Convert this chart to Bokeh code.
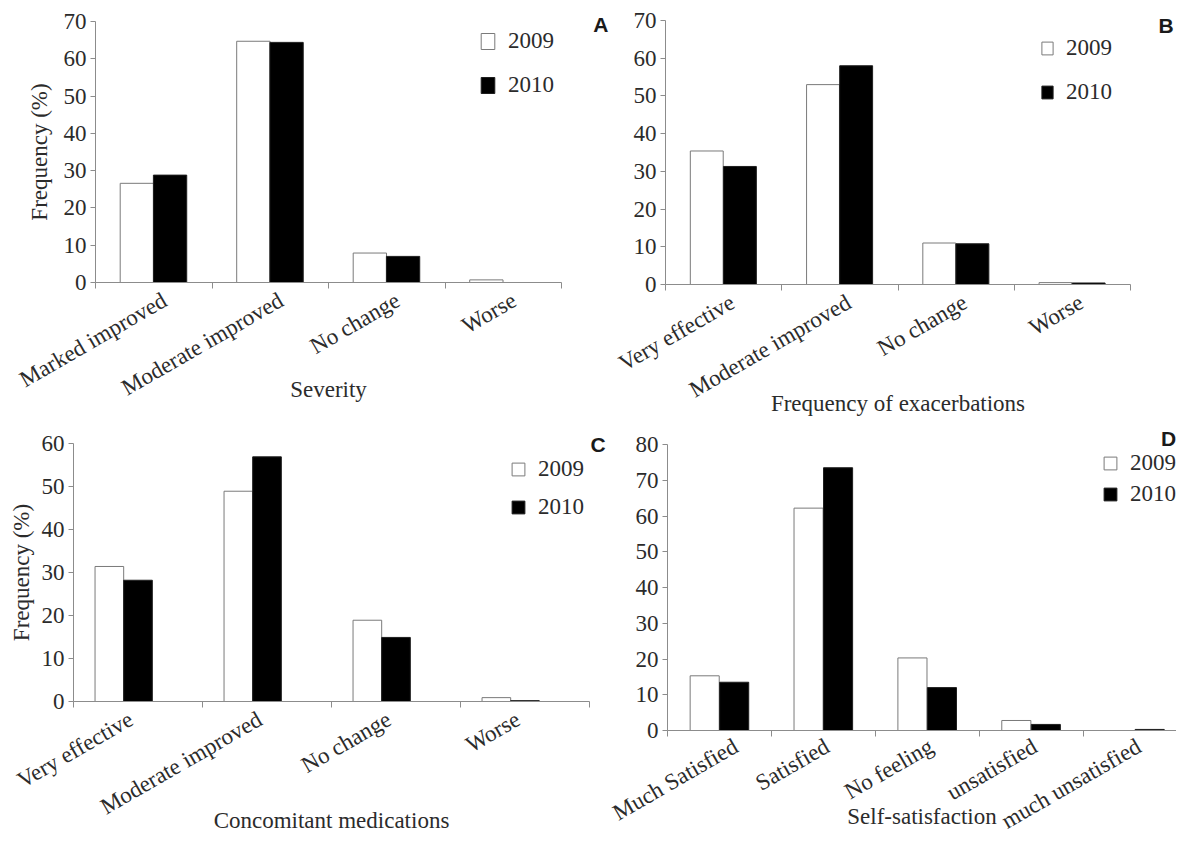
import math
from bokeh.plotting import figure
from bokeh.models import (Range1d, FixedTicker, SingleIntervalTicker, Legend, LegendItem,
                          LinearAxis)
from bokeh.layouts import column, row
from bokeh.embed import file_html
from bokeh.resources import INLINE

# ---------------- data ----------------
years = ["2009", "2010"]

severity_cats = ["Marked improved", "Moderate improved", "No change", "Worse"]
severity_2009 = [26.6, 64.7, 7.9, 0.7]
severity_2010 = [28.8, 64.4, 7.0, 0.0]

exacerb_cats = ["Very effective", "Moderate improved", "No change", "Worse"]
exacerb_2009 = [35.4, 53.0, 11.0, 0.5]
exacerb_2010 = [31.3, 58.0, 10.8, 0.4]

medic_cats = ["Very effective", "Moderate improved", "No change", "Worse"]
medic_2009 = [31.4, 48.9, 18.9, 0.9]
medic_2010 = [28.2, 56.9, 14.9, 0.2]

satis_cats = ["Much Satisfied", "Satisfied", "No feeling", "unsatisfied", "much unsatisfied"]
satis_2009 = [15.3, 62.2, 20.3, 2.8, 0.0]
satis_2010 = [13.5, 73.5, 12.0, 1.7, 0.3]

panel_letters = ["A", "B", "C", "D"]

y_tick_step = 10

# ---------------- style ----------------
FONT = "Liberation Serif"
LETTER_FONT = "Liberation Sans"
TXT = "#2b2b2b"
AXC = "#8c8c8c"
FS = "23px"


def make_panel(cats, v09, v10, ymax, xend, w, h, bl, br, bt, bb,
               off09, off10, bw, label_shift_px,
               xlabel, ylabel, xlab_std, ylab_std, lab_std,
               leg_loc, glyph_w, glyph_h, leg_spacing):
    n = len(cats)
    centers = [i + 0.5 for i in range(n)]
    cat_px = (w - bl - br) / xend
    shift = label_shift_px / cat_px
    p = figure(width=w, height=h, x_range=Range1d(0, xend), y_range=Range1d(0, ymax),
               output_backend="svg", toolbar_location=None,
               min_border_left=bl, min_border_right=br,
               min_border_top=bt, min_border_bottom=bb)
    p.outline_line_color = None
    p.xgrid.visible = False
    p.ygrid.visible = False
    p.background_fill_color = "white"
    p.border_fill_color = "white"

    r09 = p.vbar(x=[c + off09 for c in centers], top=v09, width=bw,
                 fill_color="white", line_color="#7a7a7a", line_width=1)
    r10 = p.vbar(x=[c + off10 for c in centers], top=v10, width=bw,
                 fill_color="black", line_color="#1e1e1e", line_width=1)

    label_pos = [c + shift for c in centers]
    xa = p.xaxis[0]
    xa.ticker = FixedTicker(ticks=label_pos, minor_ticks=list(range(n + 1)))
    xa.major_label_overrides = {pos: cat for pos, cat in zip(label_pos, cats)}
    xa.major_label_orientation = math.pi / 6
    xa.major_tick_out = 0
    xa.major_tick_in = 0
    xa.minor_tick_out = 6
    xa.minor_tick_in = 0
    xa.minor_tick_line_color = AXC
    xa.axis_line_color = AXC
    xa.major_label_text_font = FONT
    xa.major_label_text_font_size = FS
    xa.major_label_text_color = TXT
    xa.major_label_standoff = lab_std
    xa.axis_label = xlabel
    xa.axis_label_text_font = FONT
    xa.axis_label_text_font_size = FS
    xa.axis_label_text_font_style = "normal"
    xa.axis_label_text_color = TXT
    xa.axis_label_standoff = xlab_std

    ya = p.yaxis[0]
    ya.ticker = SingleIntervalTicker(interval=y_tick_step, num_minor_ticks=0)
    ya.major_tick_out = 5
    ya.major_tick_in = 0
    ya.minor_tick_out = 0
    ya.minor_tick_in = 0
    ya.major_tick_line_color = AXC
    ya.axis_line_color = AXC
    ya.major_label_text_font = FONT
    ya.major_label_text_font_size = FS
    ya.major_label_text_color = TXT
    ya.major_label_standoff = 4
    if ylabel:
        ya.axis_label = ylabel
        ya.axis_label_text_font = FONT
        ya.axis_label_text_font_size = FS
        ya.axis_label_text_font_style = "normal"
        ya.axis_label_text_color = TXT
        ya.axis_label_standoff = ylab_std

    leg = Legend(items=[LegendItem(label=years[0], renderers=[r09]),
                        LegendItem(label=years[1], renderers=[r10])],
                 location=leg_loc, orientation="vertical",
                 glyph_width=glyph_w, glyph_height=glyph_h,
                 label_height=glyph_h, label_standoff=12,
                 spacing=leg_spacing, padding=0, margin=0,
                 border_line_color=None, background_fill_alpha=0,
                 label_text_font=FONT, label_text_font_size=FS,
                 label_text_color=TXT)
    p.add_layout(leg)
    return p


def letter_axis(p, side, txt, pos, standoff):
    """Panel letter drawn as the single tick label of an otherwise invisible axis."""
    ax = LinearAxis(ticker=FixedTicker(ticks=[pos], minor_ticks=[]),
                    major_label_overrides={pos: txt})
    ax.axis_line_color = None
    ax.major_tick_line_color = None
    ax.minor_tick_line_color = None
    ax.major_tick_out = 0
    ax.major_tick_in = 0
    ax.minor_tick_out = 0
    ax.minor_tick_in = 0
    ax.major_label_standoff = standoff
    ax.major_label_text_font = LETTER_FONT
    ax.major_label_text_font_style = "bold"
    ax.major_label_text_font_size = "21px"
    ax.major_label_text_color = "#1a1a1a"
    p.add_layout(ax, side)


pA = make_panel(severity_cats, severity_2009, severity_2010, 70, 4,
                580, 422, 95, 19, 21, 140, -0.145, 0.14, 0.286, 11,
                "Severity", "Frequency (%)", -37, 9, 10,
                (384, 184), 17, 20, 18)

pB = make_panel(exacerb_cats, exacerb_2009, exacerb_2010, 70, 4,
                596, 422, 85, 44, 20, 138, -0.145, 0.14, 0.283, 9,
                "Frequency of exacerbations", None, -25, 0, 10,
                (375, 179), 14, 16, 18)
letter_axis(pB, "left", panel_letters[0], 69, 22)
letter_axis(pB, "right", panel_letters[1], 68.7, 28)

pC = make_panel(medic_cats, medic_2009, medic_2010, 60, 4,
                608, 418, 73, 17, 21, 139, -0.222, 0.0, 0.222, -7,
                "Concomitant medications", "Frequency (%)", -25, 5, 10,
                (437, 181), 16, 16, 12)
letter_axis(pC, "right", panel_letters[2], 59.7, 1)

pD = make_panel(satis_cats, satis_2009, satis_2010, 80, 4.9,
                568, 418, 59, 0, 22, 110, -0.142, 0.142, 0.28, 4,
                "Self-satisfaction", None, -43, 0, 8,
                (435, 223), 16, 16, 5)
letter_axis(pD, "above", panel_letters[3], 4.83, -5)

layout = column(row(column(pA), column(pB)), row(column(pC), column(pD)))

html = file_html(layout, INLINE, "Figure")
open("out.html", "w").write(html)
